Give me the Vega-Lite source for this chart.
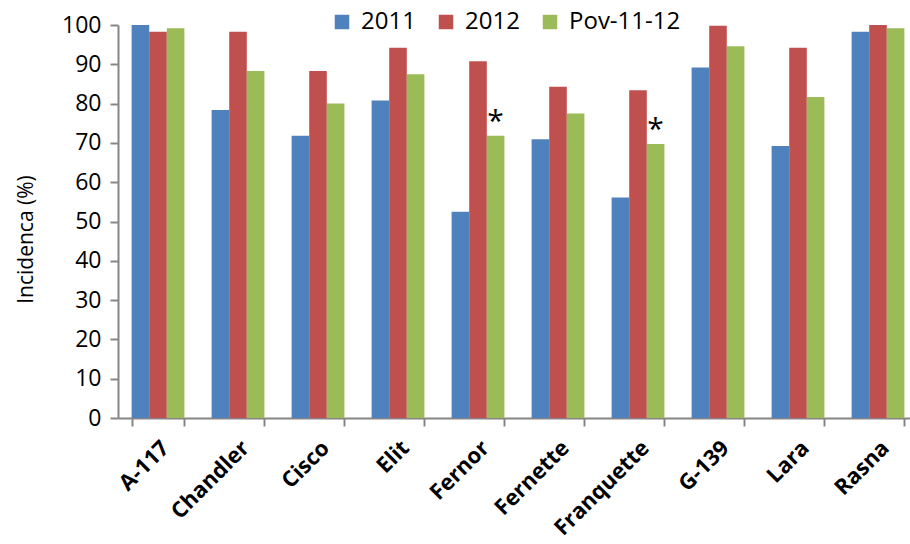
{
  "$schema": "https://vega.github.io/schema/vega-lite/v6.json",
  "autosize": "none",
  "width": 800,
  "height": 393,
  "padding": {"left": 118, "top": 25, "right": 0, "bottom": 126},
  "background": "white",
  "config": {
    "view": {"stroke": null},
    "font": "Open Sans"
  },
  "data": {
    "values": [
      {"cultivar": "A-117", "serie": "2011", "value": 100},
      {"cultivar": "A-117", "serie": "2012", "value": 98.3},
      {"cultivar": "A-117", "serie": "Pov-11-12", "value": 99.2},
      {"cultivar": "Chandler", "serie": "2011", "value": 78.4},
      {"cultivar": "Chandler", "serie": "2012", "value": 98.3},
      {"cultivar": "Chandler", "serie": "Pov-11-12", "value": 88.3},
      {"cultivar": "Cisco", "serie": "2011", "value": 71.8},
      {"cultivar": "Cisco", "serie": "2012", "value": 88.3},
      {"cultivar": "Cisco", "serie": "Pov-11-12", "value": 80.0},
      {"cultivar": "Elit", "serie": "2011", "value": 80.8},
      {"cultivar": "Elit", "serie": "2012", "value": 94.2},
      {"cultivar": "Elit", "serie": "Pov-11-12", "value": 87.5},
      {"cultivar": "Fernor", "serie": "2011", "value": 52.5},
      {"cultivar": "Fernor", "serie": "2012", "value": 90.8},
      {"cultivar": "Fernor", "serie": "Pov-11-12", "value": 71.8, "sig": "*"},
      {"cultivar": "Fernette", "serie": "2011", "value": 70.9},
      {"cultivar": "Fernette", "serie": "2012", "value": 84.3},
      {"cultivar": "Fernette", "serie": "Pov-11-12", "value": 77.5},
      {"cultivar": "Franquette", "serie": "2011", "value": 56.1},
      {"cultivar": "Franquette", "serie": "2012", "value": 83.4},
      {"cultivar": "Franquette", "serie": "Pov-11-12", "value": 69.7, "sig": "*"},
      {"cultivar": "G-139", "serie": "2011", "value": 89.2},
      {"cultivar": "G-139", "serie": "2012", "value": 99.8},
      {"cultivar": "G-139", "serie": "Pov-11-12", "value": 94.6},
      {"cultivar": "Lara", "serie": "2011", "value": 69.2},
      {"cultivar": "Lara", "serie": "2012", "value": 94.2},
      {"cultivar": "Lara", "serie": "Pov-11-12", "value": 81.7},
      {"cultivar": "Rasna", "serie": "2011", "value": 98.3},
      {"cultivar": "Rasna", "serie": "2012", "value": 100},
      {"cultivar": "Rasna", "serie": "Pov-11-12", "value": 99.2}
    ]
  },
  "encoding": {
    "x": {
      "field": "cultivar",
      "type": "nominal",
      "sort": null,
      "scale": {"paddingInner": 0.34, "paddingOuter": 0.17},
      "axis": {
        "title": null,
        "labelAngle": -45,
        "labelFont": "Open Sans",
        "labelFontWeight": "bold",
        "labelFontSize": 22,
        "labelColor": "black",
        "labelPadding": 11,
        "labelOverlap": false,
        "tickBand": "extent",
        "tickSize": 8,
        "tickColor": "#868686",
        "tickWidth": 2,
        "domainColor": "#868686",
        "domainWidth": 2
      }
    },
    "xOffset": {"field": "serie", "type": "nominal"},
    "y": {
      "field": "value",
      "type": "quantitative",
      "scale": {"domain": [0, 100], "nice": false},
      "axis": {
        "title": "Incidenca (%)",
        "titleFont": "Open Sans",
        "titleFontWeight": "normal",
        "titleFontSize": 21,
        "titleColor": "black",
        "titleX": -92,
        "titleY": 214,
        "titleAngle": -90,
        "titleAlign": "center",
        "titleBaseline": "middle",
        "values": [0, 10, 20, 30, 40, 50, 60, 70, 80, 90, 100],
        "labelOverlap": false,
        "grid": false,
        "labelFont": "Open Sans",
        "labelFontSize": 23,
        "labelColor": "black",
        "labelPadding": 9,
        "tickSize": 8,
        "tickColor": "#868686",
        "tickWidth": 2,
        "domainColor": "#868686",
        "domainWidth": 2
      }
    }
  },
  "layer": [
    {
      "mark": {"type": "bar"},
      "encoding": {
        "color": {
          "field": "serie",
          "type": "nominal",
          "scale": {"domain": ["2011", "2012", "Pov-11-12"], "range": ["#4F81BD", "#C0504D", "#9BBB59"]},
          "legend": {
            "title": null,
            "orient": "none",
            "direction": "horizontal",
            "legendX": 212,
            "legendY": -15,
            "symbolType": "square",
            "symbolSize": 210,
            "symbolStrokeWidth": 0,
            "symbolOpacity": 1,
            "labelFont": "Open Sans",
            "labelFontSize": 24,
            "labelColor": "black",
            "labelOffset": 7,
            "columnPadding": 18
          }
        }
      }
    },
    {
      "transform": [{"filter": "datum.sig != null"}],
      "mark": {"type": "text", "fontSize": 30, "baseline": "bottom", "dy": 1, "color": "black", "font": "Open Sans"},
      "encoding": {
        "text": {"field": "sig"}
      }
    }
  ]
}
